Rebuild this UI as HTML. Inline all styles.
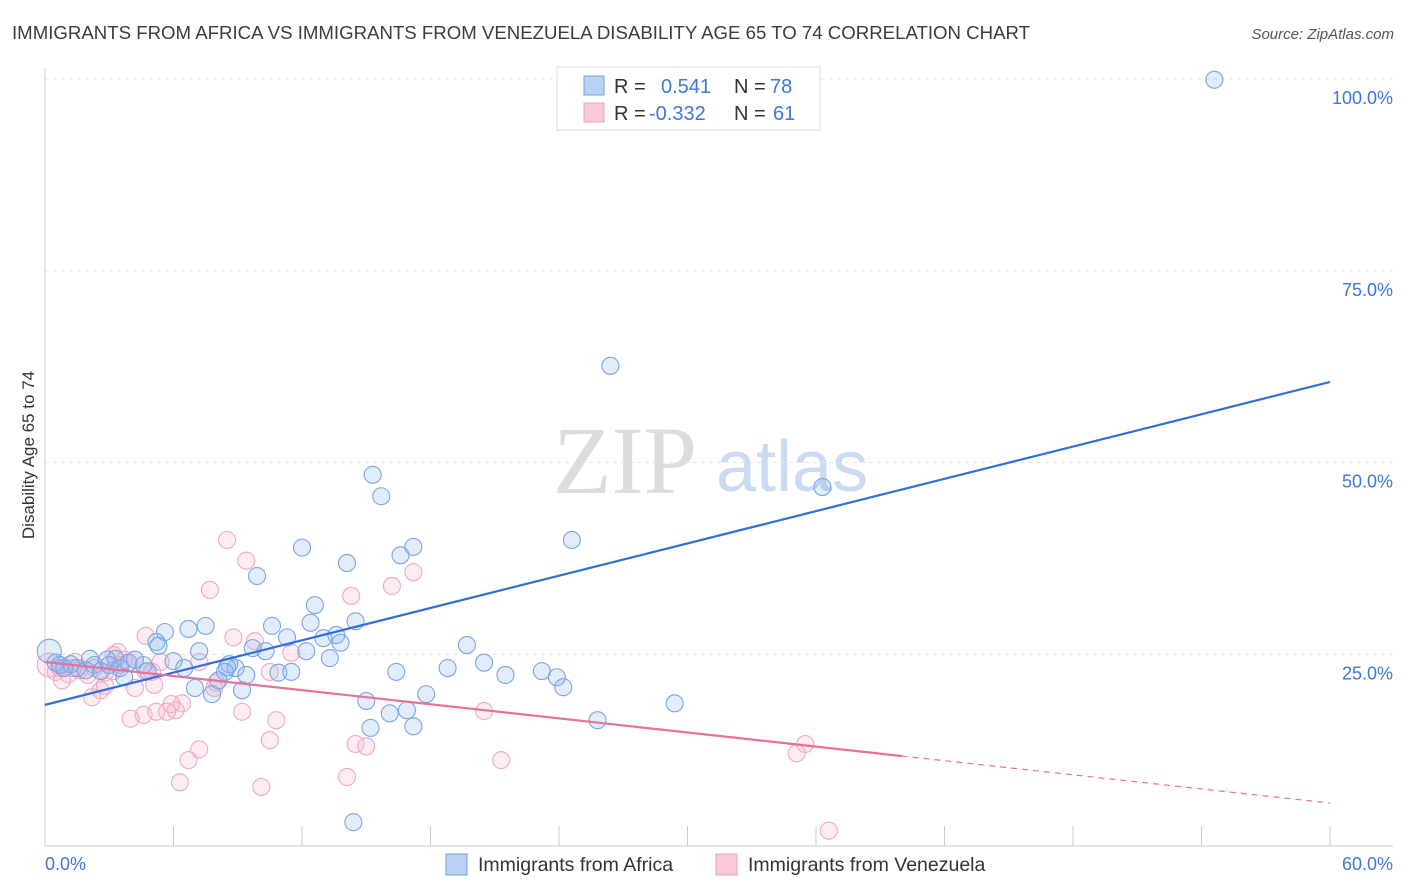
<!DOCTYPE html>
<html><head><meta charset="utf-8">
<style>
body{margin:0;background:#fff;}
svg{display:block;font-family:"Liberation Sans",sans-serif;}
</style></head>
<body>
<svg id="chart" width="1406" height="892" viewBox="0 0 1406 892">
<text x="12" y="39" font-size="18.5" fill="#3c3c3c" textLength="1018" lengthAdjust="spacingAndGlyphs">IMMIGRANTS FROM AFRICA VS IMMIGRANTS FROM VENEZUELA DISABILITY AGE 65 TO 74 CORRELATION CHART</text>
<text x="1394" y="39" font-size="15" fill="#555" font-style="italic" text-anchor="end">Source: ZipAtlas.com</text>
<g>
<text x="553" y="493" font-size="96" font-family="Liberation Serif,serif" fill="#dcdcdc">ZIP</text>
<text x="716" y="491" font-size="72" fill="#c9daf2">atlas</text>
</g>
<g id="grid"></g>
<g id="axes"></g>
<g id="marks"></g>
<text x="34" y="455" font-size="17" fill="#333" text-anchor="middle" transform="rotate(-90 34 455)">Disability Age 65 to 74</text>
<text x="45" y="870" font-size="18" fill="#3b78d8">0.0%</text>
<text x="1393" y="870" font-size="18" fill="#3b78d8" text-anchor="end">60.0%</text>
<g>
<rect x="557" y="67" width="263" height="63" fill="#fff" stroke="#ddd"/>
<rect x="584" y="76" width="20" height="19" fill="#b9d1f3" stroke="#6fa0e0"/>
<rect x="584" y="103" width="20" height="19" fill="#f9c9d7" stroke="#f0a0b8"/>
<text x="614" y="93" font-size="20" fill="#333">R =</text>
<text x="661" y="93" font-size="20" fill="#3b78d8">0.541</text>
<text x="734" y="93" font-size="20" fill="#333">N =</text>
<text x="770" y="93" font-size="20" fill="#3b78d8">78</text>
<text x="614" y="120" font-size="20" fill="#333">R =</text>
<text x="649" y="120" font-size="20" fill="#3b78d8">-0.332</text>
<text x="734" y="120" font-size="20" fill="#333">N =</text>
<text x="773" y="120" font-size="20" fill="#3b78d8">61</text>
</g>
<g>
<rect x="446" y="854" width="21" height="21" fill="#b9d1f3" stroke="#6fa0e0"/>
<text x="478" y="871" font-size="19.5" fill="#333">Immigrants from Africa</text>
<rect x="716" y="854" width="21" height="21" fill="#f9c9d7" stroke="#f0a0b8"/>
<text x="748" y="871" font-size="19.5" fill="#333">Immigrants from Venezuela</text>
</g>
</svg>
<script>
const yTicks=[25,50,75,100];
const yTickLabels=["25.0%","50.0%","75.0%","100.0%"];
const xTicks=[0,6,12,18,24,30,36,42,48,54,60];
const africaX=[54.6,26.4,15.3,15.7,36.3,24.6,17.2,16.6,12.0,14.1,9.9,12.6,14.5,12.4,5.6,6.7,7.5,10.6,11.3,13.6,13.0,13.8,19.7,5.2,5.3,7.2,8.6,10.3,12.2,9.7,6.0,6.5,8.9,8.5,9.4,8.4,10.9,11.5,13.3,16.4,18.8,20.5,21.5,23.2,23.9,24.2,29.4,25.8,17.8,15.0,16.9,16.1,17.2,15.2,14.4,7.0,7.8,9.2,8.1,0.2,0.5,0.7,1.2,1.5,2.1,2.3,2.6,2.9,3.3,3.5,3.9,4.2,4.6,4.8,3.7,3.0,1.9,0.9];
const africaY=[99.9,62.6,48.4,45.6,46.8,39.9,39.0,37.9,38.9,36.9,35.2,31.4,29.3,29.1,27.9,28.3,28.7,28.7,27.2,27.5,27.1,26.5,26.2,26.6,26.1,25.4,23.7,25.4,25.4,25.8,24.1,23.2,23.2,23.3,22.3,22.7,22.6,22.7,24.5,22.7,23.2,23.9,22.3,22.8,22.0,20.7,18.6,16.4,19.8,18.9,17.7,17.3,15.6,15.4,3.1,20.6,19.8,20.3,21.6,25.4,23.9,23.6,23.7,23.2,24.4,23.6,22.8,24.3,24.4,23.2,23.9,24.3,23.6,22.8,22.0,23.6,22.9,23.2];
const venX=[8.5,9.4,7.7,17.2,16.2,14.3,8.8,9.8,4.7,5.4,7.2,11.5,10.5,3.2,3.4,3.7,4.2,5.0,5.1,4.2,2.6,2.2,2.8,8.0,7.9,6.4,5.9,6.1,5.7,4.6,4.0,5.2,9.2,10.8,10.5,20.5,7.2,6.7,6.3,10.1,14.5,15.0,14.1,21.3,35.5,35.1,36.6,0.2,0.5,0.7,1.1,1.4,1.6,2.0,2.3,2.8,3.2,3.5,4.7,0.8,1.3];
const venY=[39.9,37.2,33.4,35.7,33.9,32.6,27.2,26.7,27.4,24.0,24.0,25.2,22.7,24.9,25.3,24.3,24.3,22.7,21.0,20.6,20.3,19.4,20.9,21.3,20.6,18.6,18.5,17.7,17.5,17.1,16.6,17.5,17.5,16.4,13.8,17.6,12.6,11.2,8.3,7.7,13.3,13.0,9.0,11.2,13.3,12.1,2.0,23.6,22.7,23.2,22.4,24.0,22.9,22.3,23.2,22.6,22.8,23.6,22.7,21.6,23.2];
const africaTrend=[18.4,60.5];   // y at x=0 and x=60
const venTrend=[24.0,5.6];       // y at x=0 and x=60
const venSolidEnd=40;
const NS="http://www.w3.org/2000/svg";
const X=v=>45+v/60*1285;
const Y=v=>846-v*7.67;
function mk(tag,attrs,parent){const e=document.createElementNS(NS,tag);for(const k in attrs)e.setAttribute(k,attrs[k]);parent.appendChild(e);return e;}
const grid=document.getElementById('grid'),axes=document.getElementById('axes'),marks=document.getElementById('marks');
yTicks.forEach((t,i)=>{
  const l=mk('line',{x1:45,x2:1393,y1:Y(t),y2:Y(t),stroke:'#e4e4e4','stroke-dasharray':'4 4'},grid);
  
  
  const tx=mk('text',{x:1393,y:Y(t)+25,'font-size':18,fill:'#3b78d8','text-anchor':'end'},axes);
  tx.textContent=yTickLabels[i];
  
  
});
mk('line',{x1:45,x2:45,y1:68,y2:846,stroke:'#ccc'},axes);
mk('line',{x1:45,x2:1393,y1:846,y2:846,stroke:'#ccc'},axes);
xTicks.forEach(t=>{
  const l=mk('line',{x1:X(t),x2:X(t),y1:826,y2:846,stroke:'#ccc'},axes);
  
  
});
function dots(xs,ys,fill,stroke,name){
  xs.forEach((x,i)=>{
    const r=(x<0.4)?12:8.5;
    const c=mk('circle',{cx:X(x),cy:Y(ys[i]),r:r,fill:fill,stroke:stroke,'stroke-width':1.1},marks);
    
    
  });
}
dots(venX,venY,'rgba(246,180,202,0.25)','#f2a8c0','point-venezuela');
dots(africaX,africaY,'rgba(140,178,238,0.25)','#78a6e4','point-africa');
const bl=mk('line',{x1:X(0),y1:Y(africaTrend[0]),x2:X(60),y2:Y(africaTrend[1]),stroke:'#2f6fd6','stroke-width':2.2},marks);


const vAt=x=>venTrend[0]+(venTrend[1]-venTrend[0])*x/60;
const pl=mk('line',{x1:X(0),y1:Y(vAt(0)),x2:X(venSolidEnd),y2:Y(vAt(venSolidEnd)),stroke:'#e8709a','stroke-width':2.2},marks);


const pd=mk('line',{x1:X(venSolidEnd),y1:Y(vAt(venSolidEnd)),x2:X(60),y2:Y(vAt(60)),stroke:'#e8709a','stroke-width':1.2,'stroke-dasharray':'6 5'},marks);


</script>
</body></html>
